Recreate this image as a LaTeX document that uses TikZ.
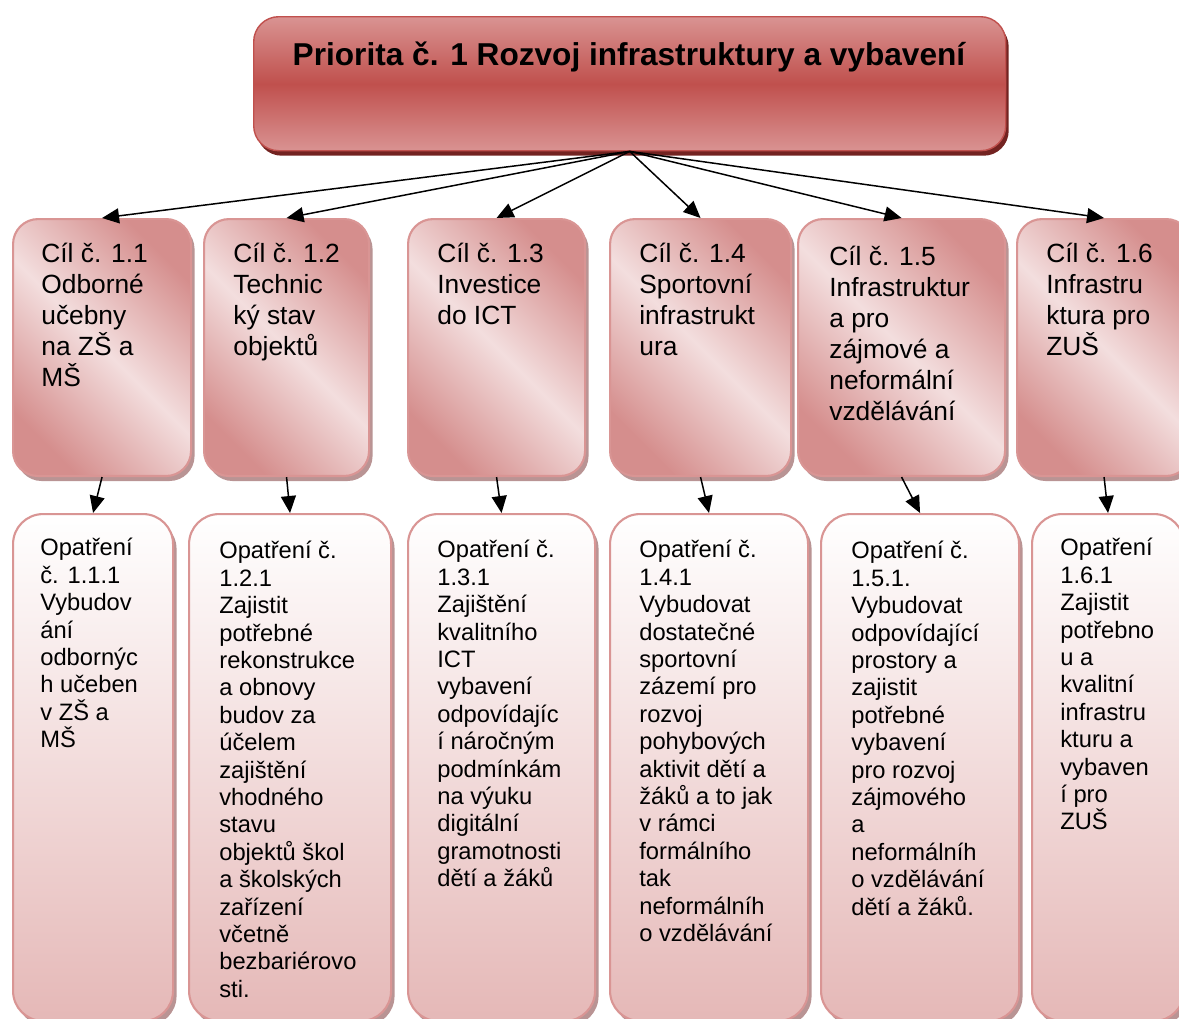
\documentclass[tikz,border=0pt]{standalone}
\usepackage{fontspec}
\setmainfont{Liberation Sans}
\usepackage{xcolor}
\usepackage{tikz}
\usetikzlibrary{shadows}
\usetikzlibrary{arrows.meta}
\definecolor{priodark}{RGB}{192,80,77}
\definecolor{priolight}{RGB}{217,147,146}
\definecolor{prioshadow}{RGB}{115,35,33}
\definecolor{goaldark}{RGB}{213,142,141}
\definecolor{goallight}{RGB}{243,222,222}
\definecolor{goalline}{RGB}{217,149,148}
\definecolor{boxshadow}{RGB}{185,148,148}
\definecolor{measurebottom}{RGB}{229,184,183}
\tikzstyle{prio}=[rectangle,rounded corners=0.5cm,draw=priodark,line width=0.8pt,top color=priolight,bottom color=priolight,middle color=priodark,drop shadow={shadow xshift=0.06cm,shadow yshift=-0.1cm,fill=prioshadow,opacity=1},anchor=north west,inner sep=0pt]
\tikzstyle{goal}=[rectangle,rounded corners=0.5cm,draw=goalline,line width=1.2pt,top color=goaldark,bottom color=goaldark,middle color=goallight,shading angle=-45,drop shadow={shadow xshift=0.07cm,shadow yshift=-0.1cm,fill=boxshadow,opacity=1},anchor=north west,inner sep=0pt,minimum height=5.14cm]
\tikzstyle{measure}=[rectangle,rounded corners=0.6cm,draw=goalline,line width=1.2pt,top color=white,bottom color=measurebottom,drop shadow={shadow xshift=0.07cm,shadow yshift=-0.1cm,fill=boxshadow,opacity=1},anchor=north west,inner sep=0pt,minimum height=10.14cm]
\tikzstyle{goaltext}=[anchor=north west,inner sep=0pt,align=left,font=\fontsize{15}{17.6}\selectfont]
\tikzstyle{measuretext}=[anchor=north west,inner sep=0pt,align=left,font=\fontsize{13.5}{15.6}\selectfont]
\tikzstyle{edge}=[draw,line width=0.85pt,-{Triangle[length=0.34cm,width=0.3cm]}]

\begin{document}
\begin{tikzpicture}[x=0.02cm,y=-0.02cm]

 \useasboundingbox (0,0) rectangle (1179,1018);
 \clip (0,0) rectangle (1179,1018);
 \def\u{0.02cm};

 %Priorita
 \node[prio,minimum width=752*\u,minimum height=134*\u] (prio) at (253,16) {};
 \node[font=\bfseries\fontsize{18}{21}\selectfont,anchor=base] (priot) at (629,65) {Priorita č. 1 Rozvoj infrastruktury a vybavení};

 %Cile
   \foreach \x/\w/\name in {12/178/g1, 203/165/g2, 407/177/g3, 609/181/g4, 797/207/g5, 1016/174/g6}
          \node[goal,minimum width=\w*\u] (\name) at (\x,218) {};

   \foreach \x/\y/\name/\label in {41/243/g1t/{Cíl č. 1.1\\Odborné\\učebny\\na ZŠ a\\MŠ},
                                   233/243/g2t/{Cíl č. 1.2\\Technic\\ký stav\\objektů},
                                   437/243/g3t/{Cíl č. 1.3\\Investice\\do ICT},
                                   639/243/g4t/{Cíl č. 1.4\\Sportovní\\infrastrukt\\ura},
                                   829/246/g5t/{Cíl č. 1.5\\Infrastruktur\\a pro\\zájmové a\\neformální\\vzdělávání},
                                   1046/243/g6t/{Cíl č. 1.6\\Infrastru\\ktura pro\\ZUŠ}}
          \node[goaltext] (\name) at (\x,\y) {\label};

 %Opatreni
   \foreach \x/\w/\name in {12/160/m1, 188/202/m2, 407/187/m3, 609/198/m4, 820/198/m5, 1031/152/m6}
          \node[measure,minimum width=\w*\u] (\name) at (\x,513) {};

   \foreach \x/\y/\name/\label in {40/538/m1t/{Opatření\\č. 1.1.1\\Vybudov\\ání\\odbornýc\\h učeben\\v ZŠ a\\MŠ},
                                   219/541/m2t/{Opatření č.\\1.2.1\\Zajistit\\potřebné\\rekonstrukce\\a obnovy\\budov za\\účelem\\zajištění\\vhodného\\stavu\\objektů škol\\a školských\\zařízení\\včetně\\bezbariérovo\\sti.},
                                   437/540/m3t/{Opatření č.\\1.3.1\\Zajištění\\kvalitního\\ICT\\vybavení\\odpovídajíc\\í náročným\\podmínkám\\na výuku\\digitální\\gramotnosti\\dětí a žáků},
                                   639/540/m4t/{Opatření č.\\1.4.1\\Vybudovat\\dostatečné\\sportovní\\zázemí pro\\rozvoj\\pohybových\\aktivit dětí a\\žáků a to jak\\v rámci\\formálního\\tak\\neformálníh\\o vzdělávání},
                                   851/541/m5t/{Opatření č.\\1.5.1.\\Vybudovat\\odpovídající\\prostory a\\zajistit\\potřebné\\vybavení\\pro rozvoj\\zájmového\\a\\neformálníh\\o vzdělávání\\dětí a žáků.},
                                   1060/538/m6t/{Opatření\\1.6.1\\Zajistit\\potřebno\\u a\\kvalitní\\infrastru\\kturu a\\vybaven\\í pro\\ZUŠ}}
          \node[measuretext] (\name) at (\x,\y) {\label};

 %arrows
  \foreach \dest in {g1,g2,g3,g4,g5,g6}
         \path[edge] (prio.south) -- (\dest.north);

  \foreach \source/ \dest in {g1/m1, g2/m2, g3/m3, g4/m4, g5/m5, g6/m6}
         \path[edge] (\source.south) -- (\dest.north);

\end{tikzpicture}
\end{document}
